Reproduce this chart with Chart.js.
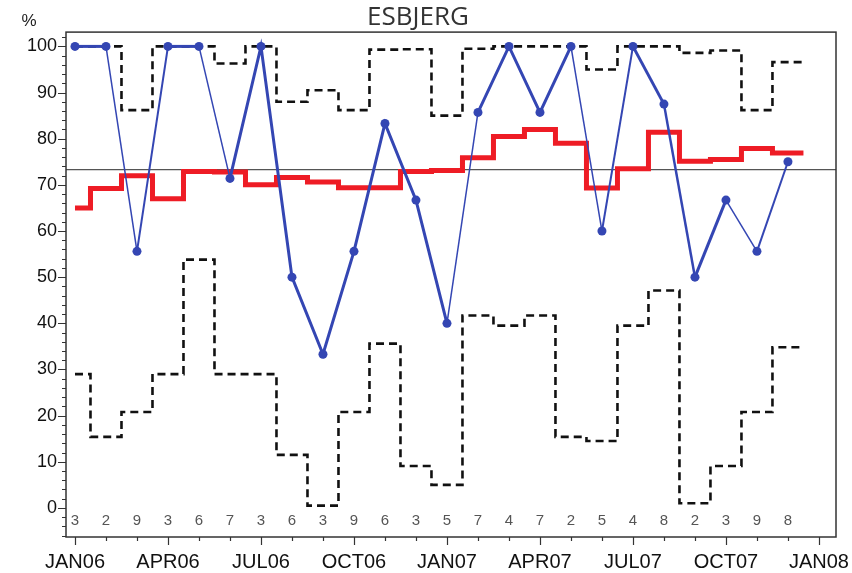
<!DOCTYPE html>
<html>
<head>
<meta charset="utf-8">
<script src="https://cdn.jsdelivr.net/npm/chart.js@4/dist/chart.umd.min.js"></script>
<style>
html,body{margin:0;padding:0;background:#fff;}
#wrap{width:852px;height:573px;position:relative;}
</style>
</head>
<body>
<div id="wrap"><canvas id="c" width="852" height="573"></canvas></div>
<script>
// ---- data ----
const months = ['JAN06','FEB06','MAR06','APR06','MAY06','JUN06','JUL06','AUG06','SEP06','OCT06','NOV06','DEC06',
                'JAN07','FEB07','MAR07','APR07','MAY07','JUN07','JUL07','AUG07','SEP07','OCT07','NOV07','DEC07'];
const xTickLabels = ['JAN06','APR06','JUL06','OCT06','JAN07','APR07','JUL07','OCT07','JAN08'];
const yTickLabels = ['0','10','20','30','40','50','60','70','80','90','100'];
const counts = [3,2,9,3,6,7,3,6,3,9,6,3,5,7,4,7,2,5,4,8,2,3,9,8];
const observed = [100,100,55.6,100,100,71.4,100,50,33.3,55.6,83.3,66.7,
                  40,85.7,100,85.7,100,60,100,87.5,50,66.7,55.6,75];
const runningRate = [65,69.2,72,67,72.9,72.8,70,71.6,70.6,69.4,69.4,72.9,
                     73.1,75.9,80.5,82,79,69.3,73.5,81.4,75.1,75.5,77.9,76.9];
const upperLimit = [100,100,86.2,100,100,96.3,100,88,90.5,86.2,99.3,99.4,
                    85,99.5,100,100,100,95,100,100,98.6,99.1,86.2,96.6];
const lowerLimit = [29,15.4,20.8,29,53.8,29,29,11.5,0.5,20.8,35.6,9.1,
                    5,41.7,39.5,41.7,15.4,14.5,39.5,47.1,1,9.1,20.8,34.8];
const centerValue = 73.3;

// ---- styles ----
const BLUE = '#3446b3';
const RED = '#ee1c25';
const segWidths = [3,1.5,2,3,1.5,3,3,3,3,3,3,3,1.5,3,3,3,1.5,2,3,2.5,3,1.5,2];

const asPoints = arr => arr.map((v, i) => ({x: i, y: v}));
// step series run half a month past the last point
const asSteps = arr => asPoints(arr).concat([{x: arr.length - 0.5, y: arr[arr.length - 1]}]);

const decor = {
  id: 'decor',
  beforeDatasetsDraw(chart) {
    const {ctx, chartArea: a, scales: {x, y}} = chart;
    ctx.save();
    const yc = y.getPixelForValue(centerValue);
    ctx.strokeStyle = '#555';
    ctx.lineWidth = 1.3;
    ctx.beginPath(); ctx.moveTo(a.left, yc); ctx.lineTo(a.right, yc); ctx.stroke();
    ctx.fillStyle = '#555';
    ctx.font = '15px "Liberation Sans", Arial, sans-serif';
    ctx.textAlign = 'center';
    ctx.textBaseline = 'middle';
    counts.forEach((n, i) => ctx.fillText(String(n), x.getPixelForValue(i), a.bottom - 16));
    ctx.restore();
  },
  afterDraw(chart) {
    const {ctx, chartArea: a, scales: {x, y}} = chart;
    ctx.save();
    ctx.strokeStyle = '#333';
    ctx.lineWidth = 1.2;
    ctx.beginPath();
    for (let v = -6; v <= 102; v += 2) {
      const py = Math.round(y.getPixelForValue(v)) + 0.5;
      const len = (v % 10 === 0) ? 8 : 4;
      ctx.moveTo(a.left - len, py); ctx.lineTo(a.left, py);
    }
    for (let i = 0; i <= 24; i++) {
      const px = Math.round(x.getPixelForValue(i)) + 0.5;
      const len = (i % 3 === 0) ? 8 : 4;
      ctx.moveTo(px, a.bottom); ctx.lineTo(px, a.bottom + len);
    }
    ctx.stroke();
    ctx.lineWidth = 1.5;
    ctx.strokeStyle = '#333';
    ctx.strokeRect(a.left, a.top, a.right - a.left, a.bottom - a.top);
    ctx.fillStyle = '#222';
    ctx.font = '17px "Liberation Sans", Arial, sans-serif';
    ctx.textAlign = 'center';
    ctx.textBaseline = 'middle';
    ctx.fillText('%', 29, 21);
    ctx.restore();
  }
};

new Chart(document.getElementById('c'), {
  type: 'line',
  data: {
    datasets: [
      {
        label: 'observed', data: asPoints(observed), order: 0,
        borderColor: BLUE, backgroundColor: BLUE, borderWidth: 2.5,
        pointRadius: 4.5, pointBorderWidth: 0, pointBackgroundColor: BLUE,
        segment: { borderWidth: ctx => segWidths[ctx.p0DataIndex] }
      },
      {
        label: 'rate', data: asSteps(runningRate), order: 1,
        borderColor: RED, borderWidth: 5, stepped: 'middle', pointRadius: 0
      },
      {
        label: 'upper', data: asSteps(upperLimit), order: 2,
        borderColor: '#111', borderWidth: 2.6, borderDash: [8, 5], stepped: 'middle', pointRadius: 0
      },
      {
        label: 'lower', data: asSteps(lowerLimit), order: 3,
        borderColor: '#111', borderWidth: 2.6, borderDash: [8, 5], stepped: 'middle', pointRadius: 0
      }
    ]
  },
  options: {
    responsive: false,
    animation: false,
    events: [],
    layout: { padding: { left: 0, right: 16, top: 0, bottom: 0 } },
    plugins: {
      legend: { display: false },
      tooltip: { enabled: false },
      title: {
        display: true, text: 'ESBJERG', color: '#333',
        font: { family: '"Open Sans", "Noto Sans", sans-serif', size: 26, weight: 'normal', lineHeight: 1.1 },
        padding: { top: 3.5, bottom: 0 }
      }
    },
    scales: {
      x: {
        type: 'linear', min: -0.29, max: 24.55,
        grid: { display: false, drawTicks: false },
        border: { display: false },
        afterFit: s => { s.height = 36; s.paddingLeft = 0; s.paddingRight = 0; },
        afterBuildTicks: s => { s.ticks = xTickLabels.map((t, i) => ({value: i * 3})); },
        ticks: {
          autoSkip: false, maxRotation: 0, padding: 13,
          color: '#111', font: { family: '"Liberation Sans", Arial, sans-serif', size: 20 },
          callback: (v, i) => xTickLabels[i]
        }
      },
      y: {
        min: -6.3, max: 103.1,
        grid: { display: false, drawTicks: false },
        border: { display: false },
        afterFit: s => { s.width = 66; s.paddingTop = 0; s.paddingBottom = 0; },
        afterBuildTicks: s => { s.ticks = yTickLabels.map((t, i) => ({value: i * 10})); },
        ticks: {
          autoSkip: false, padding: 9,
          color: '#111', font: { family: '"Liberation Sans", Arial, sans-serif', size: 18 },
          callback: (v, i) => yTickLabels[i]
        }
      }
    }
  },
  plugins: [decor]
});
</script>
</body>
</html>
